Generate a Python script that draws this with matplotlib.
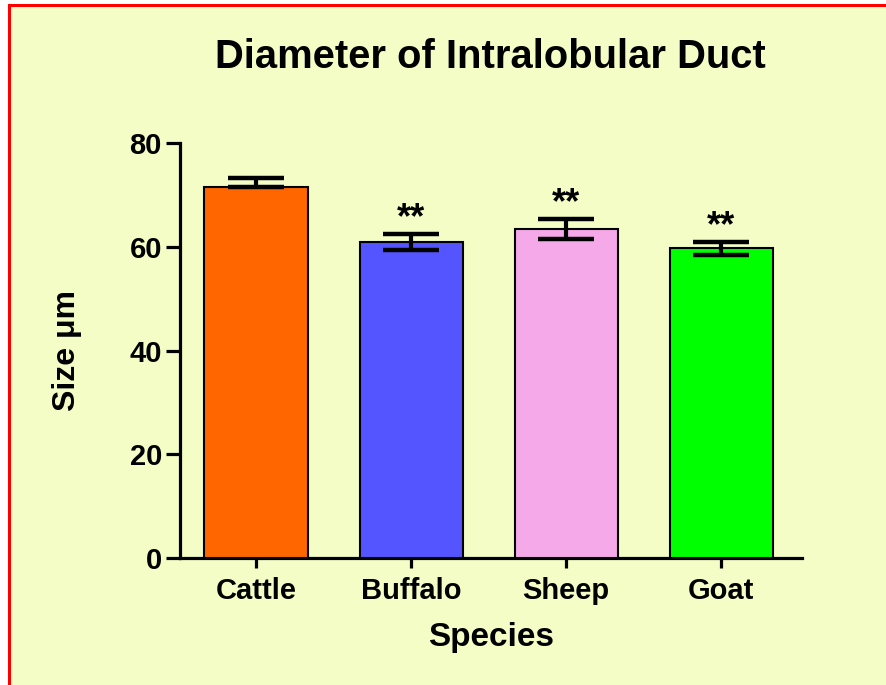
import matplotlib.pyplot as plt
from matplotlib.patches import Rectangle

species = ["Cattle", "Buffalo", "Sheep", "Goat"]
means = [71.5, 60.9, 63.4, 59.7]
err_up = [1.7, 1.5, 1.9, 1.2]
err_down = [0.0, 1.5, 1.9, 1.2]
stars = ["", "**", "**", "**"]
colors = ["#FF6600", "#5555FF", "#F5A9E8", "#00FF00"]

plt.rcParams['font.family'] = ['Liberation Sans', 'DejaVu Sans']
plt.rcParams['font.weight'] = 'bold'

bg = "#F5FDC6"

def main():
    fig = plt.figure(figsize=(8.87, 6.85), dpi=100, facecolor="white")
    # panel with red border (top and left visible)
    fig.patches.append(Rectangle((9 / 887, -0.05), 1.05, 1.05 - 5 / 685,
                                 transform=fig.transFigure, facecolor=bg,
                                 edgecolor="red", linewidth=2.2, zorder=-10))

    ax = fig.add_axes([180 / 887, (685 - 558) / 685, 622 / 887, 415 / 685])
    ax.set_facecolor("none")

    x = list(range(len(species)))
    ax.bar(x, means, width=0.665, color=colors, edgecolor="black",
           linewidth=1.5, zorder=3)
    ax.errorbar(x, means, yerr=[err_down, err_up], fmt="none", ecolor="black",
                elinewidth=3, capsize=20, capthick=3.2, zorder=4)
    for xi, m, e, s in zip(x, means, err_up, stars):
        if s:
            ax.text(xi, m + e - 0.4, s, ha="center", va="bottom",
                    fontsize=26, fontweight="bold")

    ax.set_xlim(-0.49, 3.52)
    ax.set_ylim(0, 80)
    ax.set_yticks([0, 20, 40, 60, 80])
    ax.set_xticks(x)
    ax.set_xticklabels(species)

    for side in ["top", "right"]:
        ax.spines[side].set_visible(False)
    for side in ["left", "bottom"]:
        ax.spines[side].set_linewidth(2.3)
    ax.tick_params(axis="y", length=10, width=2.3, labelsize=21, pad=3)
    ax.tick_params(axis="x", length=7, width=2.3, labelsize=21, pad=7)
    for lab in ax.get_xticklabels() + ax.get_yticklabels():
        lab.set_fontweight("bold")

    ax.set_xlabel("Species", fontsize=24, fontweight="bold", labelpad=12)
    ax.set_ylabel("Size μm", fontsize=23, fontweight="bold", labelpad=34)
    fig.text(490 / 887, 1 - 57 / 685, "Diameter of Intralobular Duct",
             ha="center", va="center", fontsize=28.8, fontweight="bold")

    fig.savefig("out.png", dpi=100, facecolor=fig.get_facecolor())

if __name__ == "__main__":
    main()
